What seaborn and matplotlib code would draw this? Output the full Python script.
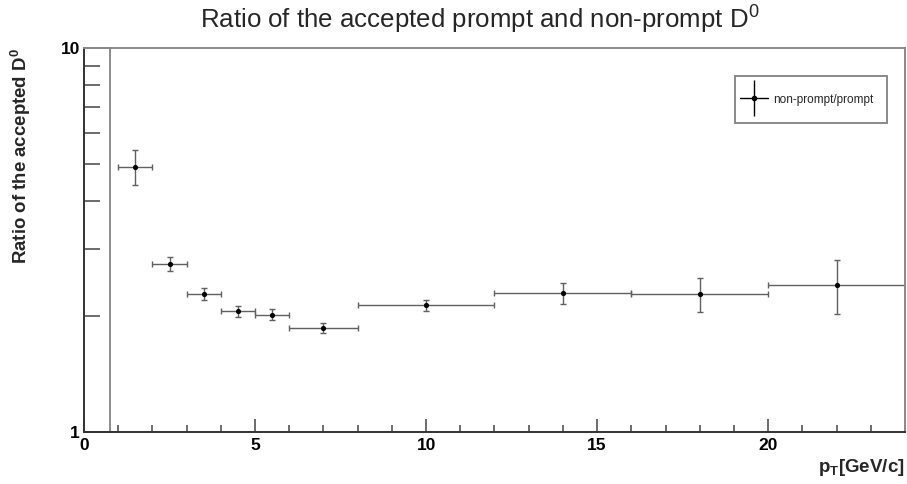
import numpy as np
import pandas as pd
import matplotlib
matplotlib.use("Agg")
import matplotlib.pyplot as plt
import seaborn as sns
from matplotlib.lines import Line2D
from matplotlib.patches import Rectangle
from matplotlib.legend_handler import HandlerTuple
from matplotlib.ticker import FixedLocator, NullFormatter, MultipleLocator

# pT bins [GeV/c] and the non-prompt / prompt ratio of accepted D0
bin_lo = [1, 2, 3, 4, 5, 6, 8, 12, 16, 20]
bin_hi = [2, 3, 4, 5, 6, 8, 12, 16, 20, 24]
ratio = [4.91, 2.74, 2.29, 2.06, 2.02, 1.865, 2.14, 2.30, 2.29, 2.42]
ratio_err = [0.50, 0.12, 0.08, 0.07, 0.065, 0.055, 0.07, 0.145, 0.235, 0.39]

y_tick_values = [1, 10]
y_tick_labels = ["1", "10"]
x_tick_values = [0, 5, 10, 15, 20]

df = pd.DataFrame({"lo": bin_lo, "hi": bin_hi, "ratio": ratio, "err": ratio_err})
df["pt"] = (df["lo"] + df["hi"]) / 2
df["half_width"] = (df["hi"] - df["lo"]) / 2

sns.set_style("white")
plt.rcParams["font.family"] = ["Liberation Sans", "DejaVu Sans"]
plt.rcParams["mathtext.fontset"] = "custom"
plt.rcParams["mathtext.rm"] = "Liberation Sans"
plt.rcParams["mathtext.bf"] = "Liberation Sans:bold"
plt.rcParams["mathtext.default"] = "regular"

W, H = 907, 484
fig = plt.figure(figsize=(W / 100, H / 100), dpi=100)
ax = fig.add_axes([84 / W, 1 - 432 / H, (905 - 84) / W, (432 - 48) / H])

err_col = "#606060"
ax.errorbar(df["pt"], df["ratio"], xerr=df["half_width"], yerr=df["err"],
            fmt="none", ecolor=err_col, elinewidth=1.0, capsize=2.0, capthick=1.0,
            zorder=2)
sns.scatterplot(data=df, x="pt", y="ratio", ax=ax, color="black", s=14,
                edgecolor="black", linewidth=0, zorder=3, legend=False)

# histogram frame edge
ax.axvline(0.76, color="#7a7a7a", lw=1.2, zorder=1)

ax.set_yscale("log")
ax.set_xlim(0, 24)
ax.set_ylim(1, 10)

ax.yaxis.set_major_locator(FixedLocator(y_tick_values))
ax.set_yticklabels(y_tick_labels)
ax.yaxis.set_minor_locator(FixedLocator([2, 3, 4, 5, 6, 7, 8, 9]))
ax.yaxis.set_minor_formatter(NullFormatter())
ax.xaxis.set_major_locator(FixedLocator(x_tick_values))
ax.xaxis.set_minor_locator(MultipleLocator(1))

ax.tick_params(axis="both", which="both", direction="in", colors="#444444",
               labelcolor="black", width=1.1, top=False, right=False,
               left=True, bottom=True)
ax.tick_params(axis="y", which="major", length=21.5, pad=3)
ax.tick_params(axis="y", which="minor", length=11.5)
ax.tick_params(axis="x", which="major", length=9.5, pad=4)
ax.tick_params(axis="x", which="minor", length=5)
for lbl in ax.get_xticklabels() + ax.get_yticklabels():
    lbl.set_fontweight("bold")
    lbl.set_fontsize(12.5)

for side in ["left", "bottom"]:
    ax.spines[side].set_color("#333333")
    ax.spines[side].set_linewidth(1.4)
for side in ["top", "right"]:
    ax.spines[side].set_color("#8a8a8a")
    ax.spines[side].set_linewidth(1.4)

ax.set_xlabel("")
ax.set_ylabel("")

fig.text(0.529, 0.958, r"Ratio of the accepted prompt and non-prompt D$^{0}$",
         ha="center", va="center", fontsize=18.6)
fig.text(0.023, 1 - 48 / H, r"Ratio of the accepted D$^{\mathbf{0}}$", rotation=90,
         ha="center", va="top", fontsize=13.4, fontweight="bold")
fig.text(905 / W, 1 - 468 / H, r"p$_{\mathbf{T}}$[GeV/c]", ha="right", va="center",
         fontsize=13.5, fontweight="bold")

# legend box
fig.patches.append(Rectangle((735 / W, 1 - 123 / H), (887 - 735) / W, (123 - 76) / H,
                             transform=fig.transFigure, facecolor="white",
                             edgecolor="#8a8a8a", linewidth=1.4, zorder=5))
h_line = Line2D([], [], color="black", lw=1, marker="o", markersize=3)
v_line = Line2D([], [], color="black", marker="|", markersize=26, markeredgewidth=1,
                linestyle="none")
leg = fig.legend([(v_line, h_line)], ["non-prompt/prompt"],
                 handler_map={tuple: HandlerTuple(ndivide=1)},
                 loc="center left", bbox_to_anchor=(740 / W, 1 - 99.5 / H),
                 frameon=False, fontsize=8.5, handlelength=2.37,
                 borderpad=0, handletextpad=0.42, borderaxespad=0)
leg.set_zorder(6)

fig.savefig("out.png", dpi=100)
